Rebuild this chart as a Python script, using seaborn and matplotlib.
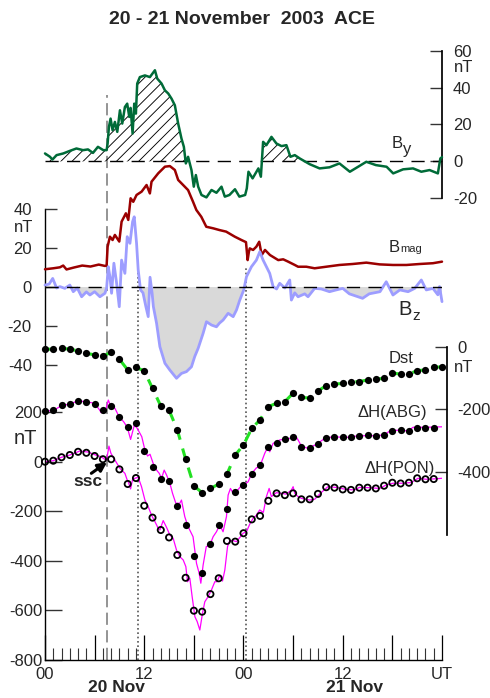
import numpy as np
import matplotlib
matplotlib.use("Agg")
import matplotlib.pyplot as plt
import seaborn as sns

sns.set_theme(style="white")
plt.rcParams['font.family'] = ['Liberation Sans', 'DejaVu Sans']
plt.rcParams['hatch.linewidth'] = 0.65

# ---------------- data ----------------
# By (nT), ACE
by_hours = [0, 0.6, 0.9, 1.4, 2.2, 3.0, 3.8, 4.6, 5.2, 5.8, 6.4, 7.05, 7.45, 7.57, 7.73, 7.93, 8.17, 8.45,
            8.74, 9.06, 9.34, 9.66, 9.94, 10.19, 10.35, 10.59, 10.79, 10.99, 11.15, 11.47, 12.08, 12.68,
            13.29, 13.57, 14.09, 14.5, 14.9, 15.3, 15.7, 16.1, 16.5, 16.79, 17.03, 17.3, 17.71, 17.99,
            18.24, 18.52, 18.92, 19.52, 20.13, 20.73, 21.34, 21.74, 22.3, 22.97, 23.5, 24.2, 24.4, 24.6,
            25.1, 25.8, 26.1, 26.37, 26.77, 27.38, 27.98, 28.59, 29.19, 29.67, 30.2, 30.8, 32.0, 33.2,
            34.4, 35.6, 36.86, 37.86, 38.85, 40.0, 41.3, 42.1, 43.3, 44.5, 45.5, 46.5, 47.5, 47.8, 48.0]
by_vals = [4.3, 2.5, 1.0, 3.4, 4.3, 5.7, 7.0, 6.1, 6.5, 4.6, 7.9, 6.1, 6.1, 9.7, 18.7, 23.2, 16.9, 21.4,
           16.0, 27.7, 20.5, 29.5, 31.3, 24.1, 29.0, 15.1, 31.3, 25.9, 42.2, 45.7, 46.6, 45.7,
           49.4, 44.9, 42.2, 38.5, 36.8, 34.0, 30.4, 20.5, 12.4, 7.9, -1.1, 2.5, -4.7, -13.7,
           -7.4, -13.7, -18.2, -19.5, -15.5, -17.0, -13.7, -19.1, -18.2, -15.1, -19.1, -18.2, -14.6, -5.6,
           -9.2, -3.8, -8.3, 10.6, 8.8, 13.3, 9.7, 8.3, 8.8, 2.5, 3.4, 1.6, -1.5, -3.8,
           -3.2, -1.1, -5.6, -2.9, -0.2, -2.0, -2.9, -6.5, -4.3, -3.8, -5.6, -4.7, -6.5, 1.6, 2.3]

# |B| (nT)
bmag_hours = [0, 1, 1.8, 2.2, 2.6, 3.5, 4.5, 5.5, 6.5, 7.25, 7.45, 7.57, 7.85, 8.17, 8.45, 8.98, 9.26,
              9.78, 10.07, 10.35, 10.67, 11.07, 11.68, 12.28, 12.68, 12.88, 13.69, 14.5, 15.1, 15.7,
              16.1, 16.7, 17.3, 17.9, 18.3, 18.9, 19.5, 20.33, 21.1, 21.9, 22.95, 23.75, 24.3, 24.5,
              24.65, 24.76, 25.16, 25.56, 25.9, 26.2, 26.6, 27.2, 28.2, 28.8, 29.4, 30.2, 30.6, 31.6,
              32.6, 34.0, 35.6, 37.2, 38.85, 40.46, 42.07, 43.7, 45.3, 46.9, 48.0]
bmag_vals = [9.1, 9.6, 10.1, 11.0, 9.0, 10.0, 11.0, 10.5, 11.5, 10.8, 11.0, 20.7, 25.8, 24.1, 26.7, 23.3, 33.5,
             37.8, 34.4, 45.5, 43.7, 47.2, 48.9, 52.3, 48.0, 54.0, 58.3, 61.7, 62.0, 60.0,
             54.9, 52.3, 49.7, 43.7, 39.5, 36.0, 30.9, 30.1, 29.2, 28.4, 25.8, 24.1, 23.0, 13.8,
             18.0, 19.8, 19.0, 20.7, 23.2, 16.4, 19.0, 16.4, 13.8, 14.2, 13.0, 11.3, 10.4, 10.4,
             9.6, 10.4, 11.3, 11.8, 12.5, 11.6, 11.3, 11.3, 11.8, 12.2, 13.0]

# Bz (nT)
bz_hours = [0, 0.5, 0.93, 1.4, 1.81, 2.4, 3.0, 3.42, 3.9, 4.43, 5.0, 5.43, 6.0, 6.64, 7.25, 7.45, 7.65,
            7.85, 8.05, 8.33, 8.66, 8.98, 9.26, 9.66, 9.94, 10.27, 10.59, 10.79, 11.07, 11.27, 11.55,
            11.85, 12.2, 12.48, 12.7, 12.95, 13.1, 13.49, 13.89, 14.5, 15.1, 15.9, 16.5, 17.1, 17.71,
            18.1, 18.52, 19.12, 19.52, 20.13, 20.73, 21.1, 21.54, 22.14, 22.75, 23.15, 23.55, 24.03,
            24.36, 24.96, 25.56, 25.97, 26.37, 26.77, 27.17, 27.58, 28.0, 28.38, 29.0, 29.59, 29.79,
            30.2, 30.6, 31.4, 31.8, 32.6, 33.4, 34.4, 35.2, 36.0, 36.8, 38.4, 39.2, 40.5, 41.26,
            42.07, 42.9, 43.9, 44.7, 45.5, 46.1, 46.9, 47.5, 47.7, 48.0]
bz_vals = [1.0, 1.5, 4.4, -0.5, 0.2, -0.7, 1.0, -2.4, -0.5, -5.0, -2.5, -4.1, -2.4, -5.0, -3.2, -0.5, 10.4,
           5.3, -3.2, 12.2, 1.9, -10.1, 13.8, 7.0, 25.8, 22.4, 33.5, 36.0, 22.4, 8.7, -1.5,
           -3.0, -10.1, -15.2, 5.0, -3.2, -10.0, -18.6, -30.6, -39.1, -42.6, -46.8, -44.3, -43.4, -40.9,
           -35.7, -31.4, -23.7, -17.8, -19.5, -20.4, -18.5, -16.9, -13.5, -15.2, -11.8, -6.7, -1.5,
           5.3, 10.4, 13.8, 18.1, 13.8, 10.4, 7.0, 0.2, -1.0, 1.9, -0.5, 3.6, -6.7,
           -3.0, -5.0, -3.5, -5.0, -0.7, -1.0, -2.4, -1.5, -0.7, -3.5, -5.8, -3.5, -2.4, 2.7,
           -4.1, -1.5, -2.4, -0.7, 3.6, -1.5, -0.7, -4.0, 0.2, -7.5]

# Hourly Dst (nT), hours 0..48
dst_hours = list(range(0, 49))
dst_vals = [-8, -8, -5, -8, -13, -21, -26, -30, -18, -40, -74, -66, -77, -133, -189, -202, -265, -358,
            -443, -465, -451, -438, -406, -345, -313, -260, -233, -191, -180, -175, -148, -161, -164,
            -141, -124, -119, -117, -113, -111, -106, -103, -101, -83, -88, -87, -76, -74, -66, -64]

# Hourly Delta-H at ABG (offset +200) and PON, hours 0..47
hourly_hours = list(range(0, 48))
abg_hourly = [205, 209, 229, 233, 245, 242, 233, 209, 225, 179, 139, 158, 44, -20, -71, -77, -179, -256,
              -381, -451, -334, -256, -193, -121, -95, -48, -15, 61, 74, 90, 101, 61, 54, 72, 94, 101,
              98, 98, 104, 107, 105, 108, 125, 128, 124, 137, 137, 137]
pon_hourly = [0, 4, 18, 27, 40, 36, 23, 10, 10, -31, -90, -66, -178, -226, -276, -306, -377, -469,
              -602, -606, -535, -471, -320, -323, -289, -233, -219, -158, -128, -135, -128, -152, -152,
              -130, -103, -105, -112, -114, -105, -105, -108, -97, -85, -88, -85, -67, -71, -70]

# Delta-H traces (higher resolution)
abg_hours = [0, 1, 2, 3, 4, 5, 6, 6.6, 6.8, 7.4, 7.65, 7.9, 8.45, 9.0, 9.5, 9.95, 10.35, 10.8, 11.15,
             11.7, 12.08, 12.4, 12.7, 13.08, 13.49, 13.81, 14.09, 14.41, 14.7, 15.1, 15.42, 15.82, 16.3,
             16.5, 16.9, 17.23, 17.5, 17.9, 18.32, 18.64, 18.84, 19.12, 19.5, 19.93, 20.33, 20.73,
             21.13, 21.53, 21.94, 22.14, 22.42, 22.75, 23.15, 23.63, 24.03, 24.56, 25.0, 25.56, 25.97,
             26.57, 26.97, 27.17, 27.58, 28.4, 29.6, 30.2, 30.6, 31.0, 31.8, 32.8, 33.82, 34.8, 36.4,
             38.0, 39.65, 41.06, 41.66, 42.9, 43.88, 44.5, 46.1, 48.0]
abg_vals = [205, 206, 227, 233, 246, 242, 236, 209, 198, 215, 249, 229, 216, 179, 162, 139, 90, 148, 135,
            101, 47, 23, 30, -7, -34, -47, -67, -34, -54, -87, -128, -168, -168,
            -155, -222, -256, -276, -303, -411, -451, -491, -417, -343, -337, -303, -283,
            -256, -283, -222, -135, -108, -128, -121, -101, -94, -81, -47, -25, -20,
            34, 61, 40, 74, 88, 94, 108, 88, 63, 54, 70, 94, 101, 98,
            105, 105, 108, 124, 128, 124, 139, 139, 141]
pon_hours = [0, 1, 2, 3, 4.2, 5.2, 6.2, 6.8, 7.25, 7.45, 7.73, 7.97, 8.45, 9.06, 9.66, 9.94, 10.06, 10.35,
             10.6, 10.87, 11.27, 11.67, 12.08, 12.48, 12.88, 13.29, 13.69, 13.89, 14.29, 14.69, 15.1,
             15.5, 15.9, 16.3, 16.71, 17.03, 17.23, 17.51, 17.79, 18.12, 18.4, 18.72, 19.04, 19.32,
             19.73, 20.13, 20.53, 20.81, 21.14, 21.46, 21.74, 22.07, 22.34, 22.75, 23.15, 23.56, 23.95,
             24.36, 24.76, 25.16, 25.56, 25.96, 26.4, 26.77, 27.1, 27.37, 27.98, 28.58, 29.19, 29.8,
             30.0, 30.2, 30.6, 31.0, 32.0, 32.6, 33.2, 33.82, 34.2, 35.2, 36.4, 37.44, 38.0, 39.25,
             40.46, 41.26, 42.07, 43.3, 44.3, 45.1, 46.1, 47.3, 48.0]
pon_vals = [0, 4, 18, 27, 43, 39, 26, 20, 9, 7, 63, 34, 7, -27, -47, -74, -81, -110,
            -70, -67, -63, -101, -155, -182, -216, -242, -269, -276, -238, -265, -296,
            -310, -357, -384, -397, -424, -485, -471, -545, -626, -646, -680, -613, -566,
            -545, -518, -485, -485, -458, -482, -438, -343, -319, -319, -323, -306, -289,
            -283, -252, -229, -216, -195, -205, -141, -108, -141, -125, -128, -131, -114,
            -101, -128, -141, -148, -155, -152, -131, -112, -101, -104, -112, -114, -104, -105,
            -108, -94, -87, -87, -84, -67, -71, -69, -67]

ssc_time = 7.5
imf_times = [11.2, 24.3]

by_ticks = [60, 40, 20, 0, -20]
b_ticks = [40, 20, 0, -20, -40]
h_ticks = [200, 0, -200, -400, -600, -800]
dst_ticks = [0, -200, -400]
x_major = list(range(0, 49, 6))
x_labels = ['00', '', '12', '', '00', '', '12', '', 'UT']

# ---------------- layout helpers ----------------
W, H = 490, 698
def rect(l, t, r, b):
    return [l / W, 1 - b / H, (r - l) / W, (b - t) / H]
def fx(x):
    return x / W
def fy(y):
    return 1 - y / H

fig = plt.figure(figsize=(W / 100, H / 100), dpi=100)
fig.patch.set_facecolor('white')

ax_H = fig.add_axes(rect(45, 209, 442, 659.7))
ax_B = fig.add_axes(rect(45, 209, 442, 659.7))
ax_by = fig.add_axes(rect(45, 50.7, 442, 198.3))
ax_dst = fig.add_axes(rect(45, 346.7, 442, 535.1))

for z, a in enumerate([ax_H, ax_B, ax_by, ax_dst]):
    a.set_facecolor('none')
    a.set_zorder(z + 1)
    a.set_xlim(0, 48)
    a.grid(False)
    for s in a.spines.values():
        s.set_visible(False)
    a.set_xticks([])

# ---- reference lines ----
ax_H.axvline(ssc_time, ymin=0, ymax=(659.7 - 95) / 450.7, color='#777777', lw=1.1,
             ls=(0, (8, 3.5)), clip_on=False, zorder=0.5)
for t, top in zip(imf_times, [265, 268]):
    ax_H.axvline(t, ymin=0, ymax=(659.7 - top) / 450.7, color='#555555', lw=1.2,
                 ls=(0, (1, 1.6)), clip_on=False, zorder=0.5)

# ---- By panel ----
by_h = np.array(by_hours)
by_v = np.array(by_vals)
ax_by.fill_between(by_h, by_v, 0, where=by_v > 0, interpolate=True, facecolor='none',
                   edgecolor='black', hatch='///', linewidth=0, zorder=1)
ax_by.axhline(0, color='black', lw=1.0, ls=(0, (9.5, 6)), zorder=2)
sns.lineplot(x=by_hours, y=by_vals, ax=ax_by, color='#006b38', linewidth=1.8, zorder=3)
ax_by.lines[-1].set_clip_on(False)

# ---- B panel ----
bz_h = np.array(bz_hours)
bz_v = np.array(bz_vals)
ax_B.fill_between(bz_h, bz_v, 0, where=bz_v < 0, interpolate=True, facecolor='#d9d9d9',
                  edgecolor='none', linewidth=0, zorder=1)
sns.lineplot(x=bmag_hours, y=bmag_vals, ax=ax_B, color='#9b0000', linewidth=1.8, zorder=3)
ax_B.lines[-1].set_clip_on(False)
sns.lineplot(x=bz_hours, y=bz_vals, ax=ax_B, color='#9d9dff', linewidth=2.0, zorder=3)
ax_B.lines[-1].set_clip_on(False)
ax_B.axhline(0, color='black', lw=1.0, ls=(0, (9.5, 6)), zorder=4)

# ---- Delta H traces ----
sns.lineplot(x=abg_hours, y=abg_vals, ax=ax_H, color='#ff00ff', linewidth=0.9, zorder=2)
sns.lineplot(x=pon_hours, y=pon_vals, ax=ax_H, color='#ff00ff', linewidth=0.9, zorder=2)
sns.scatterplot(x=hourly_hours, y=abg_hourly, ax=ax_H, color='black', s=27, linewidth=0,
                zorder=4, clip_on=False)
sns.scatterplot(x=hourly_hours, y=pon_hourly, ax=ax_H, s=20, linewidth=1.3, zorder=4, clip_on=False)
pon_coll = ax_H.collections[-1]
pon_coll.set_facecolor('none')
pon_coll.set_edgecolor('black')

# ---- Dst ----
sns.lineplot(x=dst_hours, y=dst_vals, ax=ax_dst, color='#22e022', linewidth=2.2, zorder=2)
ax_dst.lines[-1].set_dashes((3.5, 3.0))
sns.scatterplot(x=dst_hours, y=dst_vals, ax=ax_dst, color='black', s=27, linewidth=0, zorder=4,
                clip_on=False)

# ---- axes setup ----
for a in [ax_H, ax_B, ax_by, ax_dst]:
    a.set_xlim(0, 48)
    a.set_xlabel('')
    a.set_ylabel('')
ax_H.set_ylim(-800, 1021)
ax_B.set_ylim(-191.1, 40)
ax_by.set_ylim(-20, 60)
ax_dst.set_ylim(-600, 0)
for a in [ax_B, ax_by, ax_dst]:
    a.set_xticks([])

# main H axes (x axis and lower left scale)
ax_H.spines['left'].set_visible(True)
ax_H.spines['bottom'].set_visible(True)
for s in ['left', 'bottom']:
    ax_H.spines[s].set_color('black')
    ax_H.spines[s].set_linewidth(1.0)
ax_H.set_xticks(x_major)
ax_H.set_xticklabels(x_labels)
ax_H.set_xticks(list(range(0, 49)), minor=True)
ax_H.tick_params(axis='x', which='major', direction='in', length=18, width=0.9, color='black',
                 labelsize=12, pad=5, bottom=True, top=False)
ax_H.tick_params(axis='x', which='minor', direction='in', length=9, width=0.8, color='#333333',
                 bottom=True, top=False)
ax_H.set_yticks(h_ticks)
ax_H.set_yticklabels([str(v) for v in h_ticks])
ax_H.tick_params(axis='y', direction='in', length=12, width=1.0, color='#333333', labelsize=12, pad=2,
                 left=True, right=False)

# B axes (upper left scale)
ax_B.set_yticks(b_ticks)
ax_B.set_yticklabels([str(v) for v in b_ticks])
ax_B.tick_params(axis='y', direction='in', length=8.5, width=1.0, color='#333333', labelsize=12, pad=9.5,
                 left=True, right=False)

# By axes (top right scale)
ax_by.spines['right'].set_visible(True)
ax_by.spines['right'].set_color('black')
ax_by.yaxis.tick_right()
ax_by.set_yticks(by_ticks)
ax_by.set_yticklabels([str(v) for v in by_ticks])
ax_by.tick_params(axis='y', direction='in', length=8.4, width=1.0, color='#333333', labelsize=12, pad=8,
                  right=True, left=False, labelright=True, labelleft=False)

# Dst axes (right middle scale)
ax_dst.spines['right'].set_visible(True)
ax_dst.spines['right'].set_color('black')
ax_dst.spines['right'].set_position(('outward', 3.3))
ax_dst.yaxis.tick_right()
ax_dst.set_yticks(dst_ticks)
ax_dst.set_yticklabels([str(v) for v in dst_ticks])
ax_dst.tick_params(axis='y', direction='in', length=8.4, width=1.0, color='#333333', labelsize=12, pad=8,
                   right=True, left=False, labelright=True, labelleft=False)

# ---- texts ----
fig.text(fx(241.5), fy(19), '20 - 21 November  2003  ACE', ha='center', va='center',
         fontsize=14, fontweight='bold')
fig.text(fx(24), fy(227.5), 'nT', ha='center', va='center', fontsize=12)
fig.text(fx(25), fy(438), 'nT', ha='center', va='center', fontsize=14.5)
fig.text(fx(454), fy(68), 'nT', ha='left', va='center', fontsize=12)
fig.text(fx(454), fy(367.5), 'nT', ha='left', va='center', fontsize=12)

fig.text(fx(391.7), fy(148.3), 'B', ha='left', va='baseline', fontsize=12)
fig.text(fx(403.3), fy(154), 'y', ha='left', va='baseline', fontsize=12)
fig.text(fx(388.3), fy(251.7), 'B', ha='left', va='baseline', fontsize=12)
fig.text(fx(400.3), fy(251.7), 'mag', ha='left', va='baseline', fontsize=8)
fig.text(fx(398.5), fy(314.5), 'B', ha='left', va='baseline', fontsize=14.5)
fig.text(fx(412.5), fy(320.5), 'z', ha='left', va='baseline', fontsize=11)
fig.text(fx(413), fy(363), 'Dst', ha='right', va='baseline', fontsize=12)
fig.text(fx(427), fy(417.3), '\u0394H(ABG)', ha='right', va='baseline', fontsize=12)
fig.text(fx(434.5), fy(473.3), '\u0394H(PON)', ha='right', va='baseline', fontsize=12)

fig.text(fx(116.7), fy(688), '20 Nov', ha='center', va='center', fontsize=12.5, fontweight='bold')
fig.text(fx(354.3), fy(688), '21 Nov', ha='center', va='center', fontsize=12.5, fontweight='bold')

# ssc label and arrow
ax_H.text(5.2, -80, 'ssc', ha='center', va='center', fontsize=12.5, fontweight='bold', zorder=6)
ax_H.annotate('', xy=(ssc_time, pon_hourly[7] - 12), xytext=(5.6, -47),
              arrowprops=dict(arrowstyle='-|>', color='black', lw=2.2, mutation_scale=13,
                              shrinkA=0, shrinkB=0),
              annotation_clip=False, zorder=6)

fig.savefig('out.png', dpi=100, facecolor='white')
